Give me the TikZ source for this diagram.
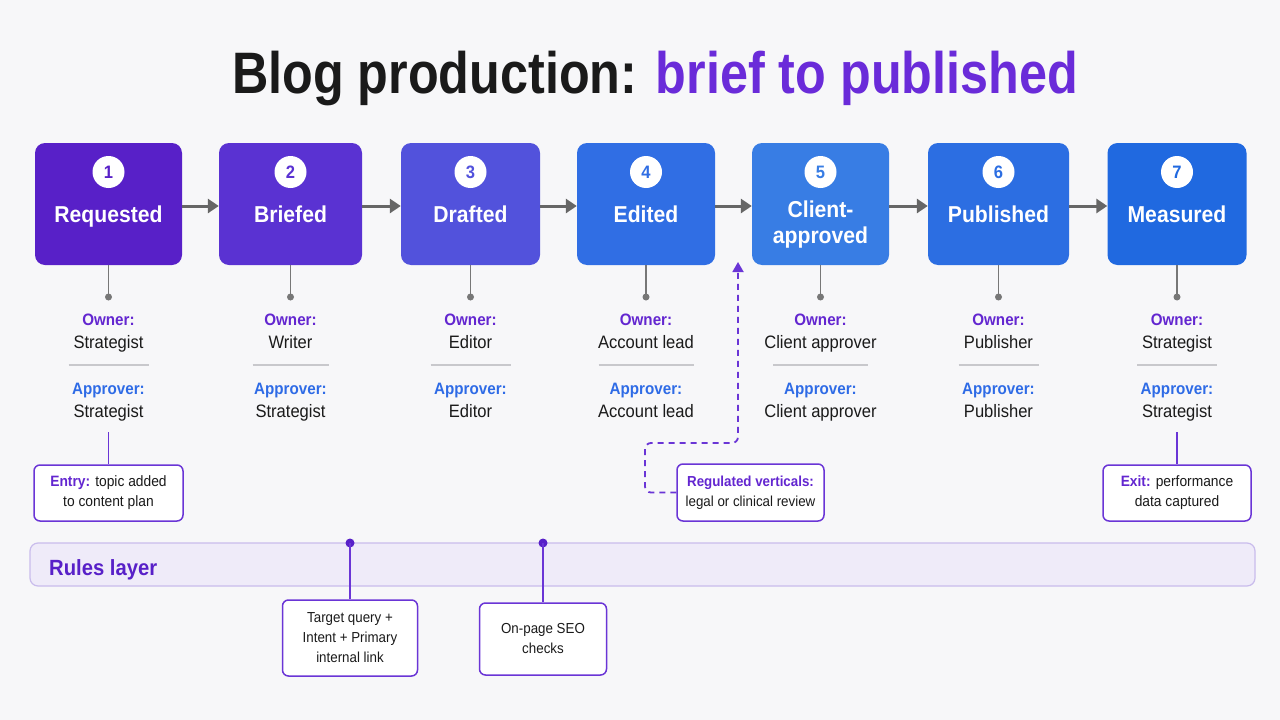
\documentclass[tikz,border=0pt]{standalone}
\usepackage{fontspec}
\setmainfont[FakeStretch=0.92]{Liberation Sans}
\newfontfamily\titlefont[FakeStretch=0.86]{Liberation Sans}
\usetikzlibrary{arrows.meta}
\definecolor{bg}{HTML}{F7F7F9}
\definecolor{cA}{HTML}{5820C8}
\definecolor{cB}{HTML}{5A32D2}
\definecolor{cC}{HTML}{5252DC}
\definecolor{cD}{HTML}{306EE4}
\definecolor{cE}{HTML}{387DE4}
\definecolor{cF}{HTML}{2C6EE2}
\definecolor{cG}{HTML}{2069E0}
\definecolor{tpurple}{HTML}{6A2BD9}
\definecolor{ownc}{HTML}{6326D0}
\definecolor{apprc}{HTML}{2E6BE6}
\definecolor{arrowc}{HTML}{666666}
\definecolor{stemc}{HTML}{777777}
\definecolor{divc}{HTML}{C8C8CC}
\definecolor{calloutc}{HTML}{6A35D6}
\definecolor{rulesfill}{HTML}{EFEBF9}
\definecolor{rulesdraw}{HTML}{C9BCEC}
\definecolor{ink}{HTML}{1A1A1A}
\tikzset{
  stage/.style={rounded corners=10pt, minimum width=143pt, minimum height=122pt, inner sep=0pt},
  numcirc/.style={circle, fill=white, minimum size=32pt, inner sep=0pt, font=\bfseries\fontsize{18}{20}\selectfont},
  stagelabel/.style={text=white, align=center, inner sep=0pt, font=\bfseries\fontsize{23}{26}\selectfont},
  flow/.style={draw=arrowc, line width=3pt, -{Triangle[length=11pt,width=14pt]}},
  stem/.style={draw=stemc, line width=1.5pt},
  stemdot/.style={circle, fill=stemc, minimum size=7pt, inner sep=0pt},
  ownlbl/.style={anchor=base, inner sep=0pt, text=ownc, font=\bfseries\fontsize{16.5}{20}\selectfont},
  apprlbl/.style={anchor=base, inner sep=0pt, text=apprc, font=\bfseries\fontsize{16.5}{20}\selectfont},
  person/.style={anchor=base, inner sep=0pt, text=ink, font=\fontsize{18}{20}\selectfont},
  divline/.style={draw=divc, line width=1.2pt},
  callout/.style={draw=calloutc, line width=1.5pt, fill=white, rounded corners=6pt, align=center, text=ink, inner sep=0pt, font=\fontsize{15}{20}\selectfont},
  calllink/.style={draw=calloutc, line width=1.8pt},
  ruledot/.style={circle, fill=cA, minimum size=9pt, inner sep=0pt},
}
\begin{document}
\begin{tikzpicture}[x=1pt,y=-1pt]
\fill[bg] (0,0) rectangle (1280,720);
\useasboundingbox (0,0) rectangle (1280,720);

% title
\node[anchor=base, inner sep=0pt, text=ink] (title) at (655,93)
  {\titlefont\bfseries\fontsize{58.5}{60}\selectfont Blog production: \textcolor{tpurple}{brief to published}};

% stages
\foreach \i/\x/\w/\col in {1/108.5/147/cA, 2/290.5/143/cB, 3/470.5/139/cC, 4/646/138/cD, 5/820.5/137/cE, 6/998.5/141/cF, 7/1177/139/cG}{
  \node[stage, fill=\col, minimum width=\w pt] (b\i) at (\x,204) {};
  \node[numcirc, text=\col] (n\i) at (\x,172) {\i};
}
\node[stagelabel, anchor=base] (l1) at (108.5,222) {Requested};
\node[stagelabel, anchor=base] (l2) at (290.5,222) {Briefed};
\node[stagelabel, anchor=base] (l3) at (470.5,222) {Drafted};
\node[stagelabel, anchor=base] (l4) at (646,222) {Edited};
\node[stagelabel] (l5) at (820.5,225) {Client-\\approved};
\node[stagelabel, anchor=base] (l6) at (998.5,222) {Published};
\node[stagelabel, anchor=base] (l7) at (1177,222) {Measured};

% flow arrows
\foreach \a/\b in {1/2,2/3,3/4,4/5,5/6,6/7}{
  \draw[flow] ([yshift=-2pt]b\a.east) -- ([yshift=-2pt]b\b.west);
}

% owners and approvers
\foreach \i/\x/\own/\appr/\dw in {1/108.5/Strategist/Strategist/80, 2/290.5/Writer/Strategist/76, 3/470.5/Editor/Editor/80, 4/646/Account lead/Account lead/95, 5/820.5/Client approver/Client approver/95, 6/998.5/Publisher/Publisher/80, 7/1177/Strategist/Strategist/80}{
  \node[stemdot] (d\i) at (\x,297) {};
  \draw[stem] (b\i.south) -- (d\i.center);
  \node[ownlbl] (o\i) at (\x,325) {Owner:};
  \node[person] (ov\i) at (\x,348) {\own};
  \coordinate (dl\i) at (\x-\dw/2,365);
  \coordinate (dr\i) at (\x+\dw/2,365);
  \draw[divline] (dl\i) -- (dr\i);
  \node[apprlbl] (a\i) at (\x,394) {Approver:};
  \node[person] (av\i) at (\x,417) {\appr};
}

% entry / exit callouts
\node[callout, minimum width=149pt, minimum height=56pt] (entry) at (108.5,493)
  {\textcolor{ownc}{\bfseries Entry:} topic added\\to content plan};
\coordinate (e1) at (108.5,432);
\draw[calllink] (e1) -- (entry.north);
\node[callout, minimum width=148pt, minimum height=56pt] (exit) at (1177,493)
  {\textcolor{ownc}{\bfseries Exit:} performance\\data captured};
\coordinate (e7) at (1177,432);
\draw[calllink] (e7) -- (exit.north);

% regulated verticals
\node[callout, minimum width=147pt, minimum height=57pt, font=\fontsize{14.5}{20}\selectfont] (reg) at (750.5,492.5)
  {\textcolor{ownc}{\bfseries Regulated verticals:}\\legal or clinical review};
\coordinate (gate) at (738,262);
\draw[calllink, dashed, dash pattern=on 6pt off 5pt, rounded corners=6pt, -{Triangle[length=10pt,width=11pt]}]
  (reg.west) -- (645,492.5) -- (645,443) -- (738,443) -- (gate);

% rules layer
\node[draw=rulesdraw, fill=rulesfill, line width=1.2pt, rounded corners=8pt, minimum width=1225pt, minimum height=43pt, inner sep=0pt] (rules) at (642.5,564.5) {};
\node[anchor=base west, text=cA, inner sep=0pt, font=\bfseries\fontsize{22}{24}\selectfont] (ruleslbl) at (49,575) {Rules layer};
\node[ruledot] (rd1) at (350,543) {};
\node[ruledot] (rd2) at (543,543) {};
\node[callout, minimum width=135pt, minimum height=76pt, font=\fontsize{14.5}{20}\selectfont] (tq) at (350,638)
  {Target query +\\Intent + Primary\\internal link};
\node[callout, minimum width=127pt, minimum height=72pt, font=\fontsize{14.5}{20}\selectfont] (seo) at (543,639)
  {On-page SEO\\checks};
\draw[calllink] (rd1.center) -- (tq.north);
\draw[calllink] (rd2.center) -- (seo.north);
\end{tikzpicture}
\end{document}
